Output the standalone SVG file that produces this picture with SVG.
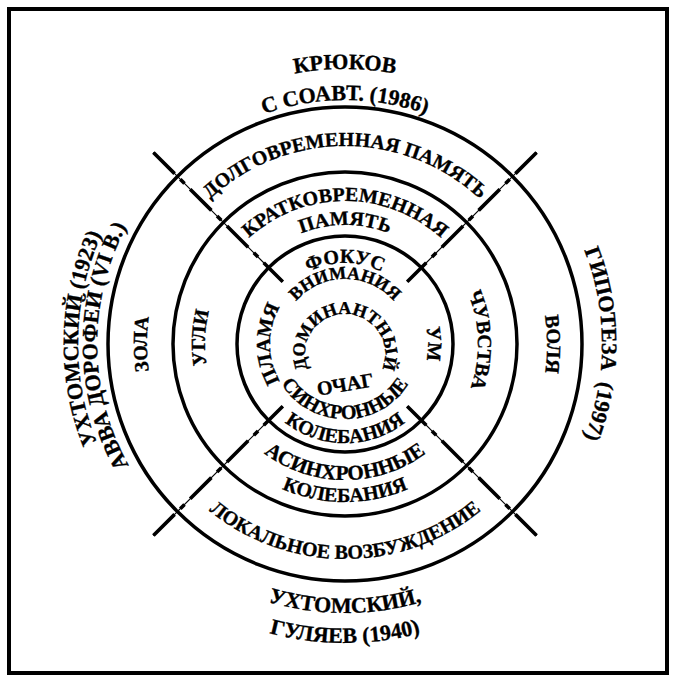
<svg xmlns="http://www.w3.org/2000/svg" xmlns:xlink="http://www.w3.org/1999/xlink" width="676" height="682" viewBox="0 0 676 682">
<style>
.t{font-family:"Liberation Serif","DejaVu Serif",serif;font-weight:bold;fill:#000;stroke:#000;stroke-width:0.35}
.s{font-size:20px}
.m{font-size:21px}
.b{font-size:22px}
.ring{fill:none;stroke:#000;stroke-width:3.5}
.thin{stroke:#000;stroke-width:1.2;fill:none}
.dash{stroke:#000;stroke-width:3.6;fill:none;stroke-dasharray:30 8 6 8}
</style>
<defs>
<path id="pT275" d="M 70 344 A 275 275 0 0 1 620 344"/>
<path id="pT244" d="M 101 344 A 244 244 0 0 1 589 344"/>
<path id="pT198" d="M 147 344 A 198 198 0 0 1 543 344"/>
<path id="pT143" d="M 202 344 A 143 143 0 0 1 488 344"/>
<path id="pT119" d="M 226 344 A 119 119 0 0 1 464 344"/>
<path id="pT81" d="M 264 344 A 81 81 0 0 1 426 344"/>
<path id="pT65" d="M 280 344 A 65 65 0 0 1 410 344"/>
<path id="pB75" d="M 270 344 A 75 75 0 0 0 420 344"/>
<path id="pB99" d="M 246 344 A 99 99 0 0 0 444 344"/>
<path id="pB136" d="M 209 344 A 136 136 0 0 0 481 344"/>
<path id="pB158" d="M 187 344 A 158 158 0 0 0 503 344"/>
<path id="pB215" d="M 130 344 A 215 215 0 0 0 560 344"/>
<path id="pB269" d="M 76 344 A 269 269 0 0 0 614 344"/>
<path id="pB299" d="M 46 344 A 299 299 0 0 0 644 344"/>
<path id="pL267" d="M 345 611 A 267 267 0 0 1 345 77"/>
<path id="pL248" d="M 345 592 A 248 248 0 0 1 345 96"/>
<path id="pL198" d="M 345 542 A 198 198 0 0 1 345 146"/>
<path id="pL140" d="M 345 484 A 140 140 0 0 1 345 204"/>
<path id="pL75" d="M 345 419 A 75 75 0 0 1 345 269"/>
<path id="pR83" d="M 345 261 A 83 83 0 0 1 345 427"/>
<path id="pR133" d="M 345 211 A 133 133 0 0 1 345 477"/>
<path id="pR202" d="M 345 142 A 202 202 0 0 1 345 546"/>
<path id="pR257" d="M 345 87 A 257 257 0 0 1 345 601"/>
<path id="pDom" d="M 345 394 A 40 40 0 1 1 345 314 A 40 40 0 1 1 345 394"/>
</defs>
<rect x="0" y="0" width="676" height="682" fill="#fff"/>
<rect id="frame" x="9" y="9" width="658" height="664" fill="none" stroke="#000" stroke-width="4"/>

<g id="rings">
<circle id="ring-outer" class="ring" cx="345" cy="344" r="237"/>
<circle id="ring-middle" class="ring" cx="345" cy="344" r="172"/>
<circle id="ring-inner" class="ring" cx="345" cy="344" r="108"/>
</g>

<g id="connectors">
<line class="thin" x1="153.4" y1="152.4" x2="282.8" y2="281.8"/>
<line class="dash" x1="153.4" y1="152.4" x2="282.8" y2="281.8"/>
<line class="thin" x1="536.6" y1="152.4" x2="407.2" y2="281.8"/>
<line class="dash" x1="536.6" y1="152.4" x2="407.2" y2="281.8"/>
<line class="thin" x1="153.4" y1="535.6" x2="282.8" y2="406.2"/>
<line class="dash" x1="153.4" y1="535.6" x2="282.8" y2="406.2"/>
<line class="thin" x1="536.6" y1="535.6" x2="407.2" y2="406.2"/>
<line class="dash" x1="536.6" y1="535.6" x2="407.2" y2="406.2"/>
</g>

<g id="label-krukov"><text class="t b" text-anchor="middle"><textPath href="#pT275" xlink:href="#pT275" startOffset="50%">КРЮКОВ</textPath></text>
<text class="t b" text-anchor="middle"><textPath href="#pT244" xlink:href="#pT244" startOffset="50%">С СОАВТ. (1986)</textPath></text></g>

<g id="label-ukhtomsky-gulyaev"><text class="t b" text-anchor="middle"><textPath href="#pB269" xlink:href="#pB269" startOffset="50%">УХТОМСКИЙ,</textPath></text>
<text class="t b" text-anchor="middle"><textPath href="#pB299" xlink:href="#pB299" startOffset="50%">ГУЛЯЕВ (1940)</textPath></text></g>

<g id="label-ukhtomsky-dorofei"><text class="t b" text-anchor="middle"><textPath href="#pL267" xlink:href="#pL267" startOffset="425">УХТОМСКИЙ (1923)</textPath></text>
<text class="t b" text-anchor="middle"><textPath href="#pL248" xlink:href="#pL248" startOffset="387">АВВА ДОРОФЕЙ (VI В.)</textPath></text></g>

<g id="label-hypothesis"><text class="t b" text-anchor="middle"><textPath href="#pR257" xlink:href="#pR257" startOffset="50%">ГИПОТЕЗА&#160; (1997)</textPath></text></g>

<g id="node-long-memory"><text class="t s" text-anchor="middle"><textPath href="#pT198" xlink:href="#pT198" startOffset="50%">ДОЛГОВРЕМЕННАЯ ПАМЯТЬ</textPath></text></g>
<g id="node-short-memory"><text class="t s" text-anchor="middle"><textPath href="#pT143" xlink:href="#pT143" startOffset="50%">КРАТКОВРЕМЕННАЯ</textPath></text>
<text class="t s" text-anchor="middle"><textPath href="#pT119" xlink:href="#pT119" startOffset="50%">ПАМЯТЬ</textPath></text></g>
<g id="node-focus"><text class="t s" text-anchor="middle"><textPath href="#pT81" xlink:href="#pT81" startOffset="50%">ФОКУС</textPath></text>
<text class="t" style="font-size:18px" text-anchor="middle"><textPath href="#pT65" xlink:href="#pT65" startOffset="50%">ВНИМАНИЯ</textPath></text></g>

<g id="node-dominant"><text class="t" style="font-size:18px" text-anchor="middle"><textPath href="#pDom" xlink:href="#pDom" startOffset="50%">ДОМИНАНТНЫЙ</textPath></text>
<text class="t" style="font-size:20px" text-anchor="middle" transform="rotate(-10 345 383)" x="345" y="391">ОЧАГ</text></g>

<g id="node-flame"><text class="t s" text-anchor="middle"><textPath href="#pL75" xlink:href="#pL75" startOffset="50%">ПЛАМЯ</textPath></text></g>
<g id="node-mind"><text class="t s" text-anchor="middle"><textPath href="#pR83" xlink:href="#pR83" startOffset="50%">УМ</textPath></text></g>
<g id="node-coals"><text class="t s" text-anchor="middle"><textPath href="#pL140" xlink:href="#pL140" startOffset="226">УГЛИ</textPath></text></g>
<g id="node-feelings"><text class="t s" text-anchor="middle"><textPath href="#pR133" xlink:href="#pR133" startOffset="205">ЧУВСТВА</textPath></text></g>
<g id="node-ash"><text class="t s" text-anchor="middle"><textPath href="#pL198" xlink:href="#pL198" startOffset="50%">ЗОЛА</textPath></text></g>
<g id="node-will"><text class="t s" text-anchor="middle"><textPath href="#pR202" xlink:href="#pR202" startOffset="50%">ВОЛЯ</textPath></text></g>

<g id="node-sync"><text class="t s" text-anchor="middle"><textPath href="#pB75" xlink:href="#pB75" startOffset="50%">СИНХРОННЫЕ</textPath></text>
<text class="t s" text-anchor="middle"><textPath href="#pB99" xlink:href="#pB99" startOffset="50%">КОЛЕБАНИЯ</textPath></text></g>
<g id="node-async"><text class="t m" text-anchor="middle"><textPath href="#pB136" xlink:href="#pB136" startOffset="50%">АСИНХРОННЫЕ</textPath></text>
<text class="t s" text-anchor="middle"><textPath href="#pB158" xlink:href="#pB158" startOffset="50%">КОЛЕБАНИЯ</textPath></text></g>
<g id="node-local"><text class="t s" text-anchor="middle"><textPath href="#pB215" xlink:href="#pB215" startOffset="50%">ЛОКАЛЬНОЕ ВОЗБУЖДЕНИЕ</textPath></text></g>
</svg>
